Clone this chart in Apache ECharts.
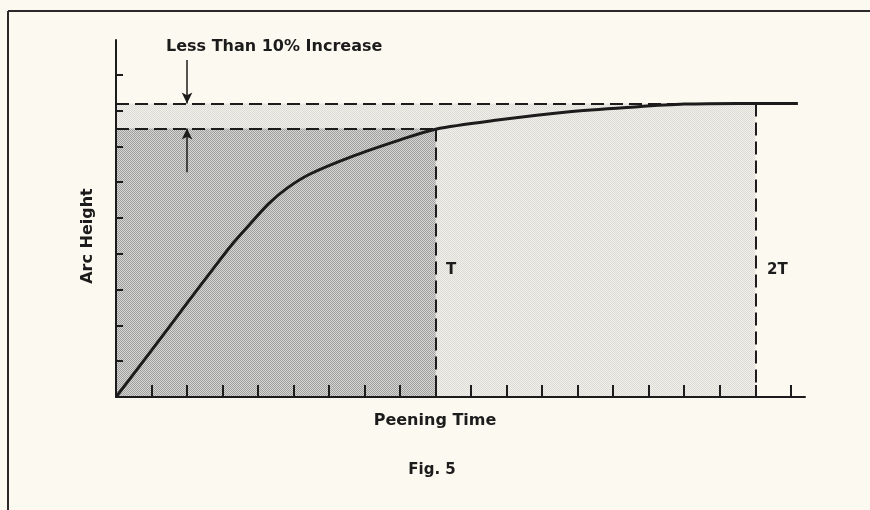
<!DOCTYPE html>
<html>
<head>
<meta charset="utf-8">
<script src="https://cdn.jsdelivr.net/npm/echarts@6/dist/echarts.min.js"></script>
<style>
html,body{margin:0;padding:0;background:#fcfaf0;}
#c{width:870px;height:510px;}
</style>
</head>
<body>
<div id="c"></div>
<script>
// ---- data ----
const peeningTime = [0, 1, 2, 2.75, 3.3, 3.8, 4.3, 4.8, 5.45, 6.6, 8, 9, 10.8, 12.7, 14.6, 16, 17.5, 19.2];
const arcHeight   = [0, 1.3, 2.62, 3.6, 4.3, 4.86, 5.4, 5.82, 6.22, 6.7, 7.18, 7.48, 7.74, 7.96, 8.1, 8.18, 8.2, 8.2];
const timeT = 9;
const time2T = 18;
const heightAtT = 7.5;
const heightSat = 8.2;
const arrowX = 2;
const arrowDownFrom = 9.41;
const arrowUpFrom = 6.28;
const xTickValues = [1,2,3,4,5,6,7,8,9,10,11,12,13,14,15,16,17,18,19];
const yTickValues = [1,2,3,4,5,6,7,8,9];
const xMax = 19.4;
const yMax = 9.97;
const title = 'Less Than 10% Increase';
const xName = 'Peening Time';
const yName = 'Arc Height';
const caption = 'Fig. 5';
const labelT = 'T';
const label2T = '2T';

const ink = '#1c1c1c';
const font = '"DejaVu Sans", "Liberation Sans", Arial, sans-serif';

function halftone(a, b) {
  const cv = document.createElement('canvas');
  cv.width = 2; cv.height = 2;
  const ctx = cv.getContext('2d');
  ctx.fillStyle = b; ctx.fillRect(0, 0, 2, 2);
  ctx.fillStyle = a; ctx.fillRect(0, 0, 1, 1); ctx.fillRect(1, 1, 1, 1);
  return {image: cv, repeat: 'repeat'};
}

const chart = echarts.init(document.getElementById('c'));
const curve = peeningTime.map((x, i) => [x, arcHeight[i]]);

chart.setOption({
  animation: false,
  backgroundColor: '#fcfaf0',
  grid: {left: 116, top: 40, right: 65, bottom: 113},
  xAxis: {
    type: 'value', min: 0, max: xMax, z: 10,
    axisLine: {lineStyle: {color: ink, width: 2}},
    axisTick: {inside: true, length: 12, customValues: xTickValues, lineStyle: {color: ink, width: 2}},
    axisLabel: {show: false},
    splitLine: {show: false}
  },
  yAxis: {
    type: 'value', min: 0, max: yMax, z: 10,
    axisLine: {show: true, lineStyle: {color: ink, width: 2}},
    axisTick: {show: true, inside: true, length: 7, customValues: yTickValues, lineStyle: {color: ink, width: 2}},
    axisLabel: {show: false},
    splitLine: {show: false}
  },
  series: [
    {
      type: 'line', data: [], silent: true, z: 1,
      markArea: {
        silent: true,
        itemStyle: {color: halftone('#dedcd7', '#f1efe9')},
        data: [[{coord: [0, 0]}, {coord: [time2T, heightSat]}]]
      }
    },
    {
      type: 'line', data: [], silent: true, z: 2,
      markArea: {
        silent: true,
        itemStyle: {color: halftone('#9f9f9e', '#d6d6d4')},
        data: [[{coord: [0, 0]}, {coord: [timeT, heightAtT]}]]
      }
    },
    {
      type: 'line', data: [], silent: true, z: 3,
      markLine: {
        silent: true, symbol: ['none', 'none'],
        label: {show: false},
        lineStyle: {color: ink, width: 2, type: [13, 6]},
        data: [
          [{coord: [0, heightSat]}, {coord: [16.5, heightSat]}],
          [{coord: [0, heightAtT]}, {coord: [timeT, heightAtT]}],
          [{coord: [timeT, heightAtT]}, {coord: [timeT, 0]}],
          [{coord: [time2T, heightSat]}, {coord: [time2T, 0]}]
        ]
      }
    },
    {
      type: 'line', data: [], silent: true, z: 4,
      markLine: {
        silent: true, symbol: ['none', 'arrow'], symbolSize: [8, 11],
        label: {show: false},
        lineStyle: {color: ink, width: 1.5, type: 'solid'},
        data: [
          [{coord: [arrowX, arrowDownFrom]}, {coord: [arrowX, heightSat]}],
          [{coord: [arrowX, arrowUpFrom]}, {coord: [arrowX, heightAtT]}]
        ]
      }
    },
    {
      type: 'line', data: curve, z: 5,
      smooth: 0.3,
      showSymbol: false, symbol: 'none',
      lineStyle: {color: ink, width: 3}
    }
  ],
  graphic: [
    {type: 'line', z: 100, shape: {x1: 8, y1: 11, x2: 870, y2: 11}, style: {stroke: '#2a2a2a', lineWidth: 2}},
    {type: 'line', z: 100, shape: {x1: 8, y1: 11, x2: 8, y2: 510}, style: {stroke: '#2a2a2a', lineWidth: 2}},
    {type: 'text', z: 100, x: 166, y: 47, style: {text: title, font: 'bold 16px ' + font, fill: ink, verticalAlign: 'middle'}},
    {type: 'text', z: 100, x: 435, y: 421, style: {text: xName, font: 'bold 16px ' + font, fill: ink, align: 'center', verticalAlign: 'middle'}},
    {type: 'text', z: 100, x: 88, y: 236, rotation: Math.PI / 2, style: {text: yName, font: 'bold 16px ' + font, fill: ink, align: 'center', verticalAlign: 'middle'}},
    {type: 'text', z: 100, x: 432, y: 470, style: {text: caption, font: 'bold 15px ' + font, fill: ink, align: 'center', verticalAlign: 'middle'}},
    {type: 'text', z: 100, x: 446, y: 270, style: {text: labelT, font: 'bold 15px ' + font, fill: ink, verticalAlign: 'middle'}},
    {type: 'text', z: 100, x: 767, y: 270, style: {text: label2T, font: 'bold 15px ' + font, fill: ink, verticalAlign: 'middle'}}
  ]
});
</script>
</body>
</html>
